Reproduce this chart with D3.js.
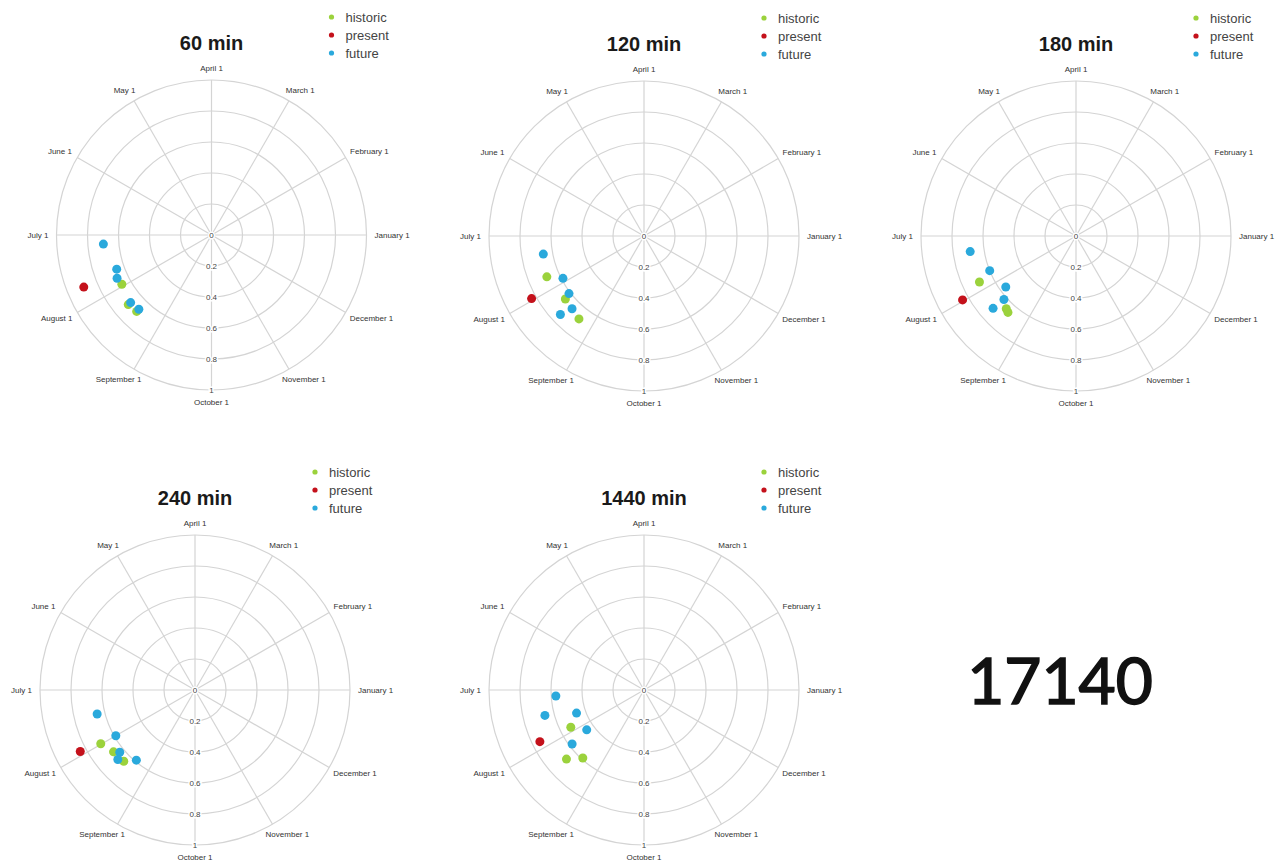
<!DOCTYPE html>
<html>
<head>
<meta charset="utf-8">
<script src="https://cdn.jsdelivr.net/npm/d3@7"></script>
<style>
  body { margin: 0; background: #fff; }
  svg { display: block; }
  .grid { fill: none; stroke: #d4d4d4; stroke-width: 1.2; }
  .month { font: 8px "Liberation Sans", Arial, sans-serif; fill: #333; }
  .rtick { font: 8px "Liberation Sans", Arial, sans-serif; fill: #444; stroke: #fff; stroke-width: 3px; paint-order: stroke; }
  .title { font: bold 20px "Liberation Sans", Arial, sans-serif; fill: #1a1a1a; }
  .legend text { font: 13px "Liberation Sans", Arial, sans-serif; fill: #444; }
  .big { font: 64px Lato, "Noto Sans", sans-serif; fill: #111; stroke: #111; stroke-width: 1.6px; }
</style>
</head>
<body>
<svg id="chart" width="1277" height="861"></svg>
<script>
// panel titles
const panels = ["60 min", "120 min", "180 min", "240 min", "1440 min"];
const seriesNames = ["historic", "present", "future"];
const seriesColors = ["#9bd23c", "#c4111b", "#2aa9dc"];
const monthLabels = ["January 1", "February 1", "March 1", "April 1", "May 1", "June 1",
                     "July 1", "August 1", "September 1", "October 1", "November 1", "December 1"];
const radialTicks = [0, 0.2, 0.4, 0.6, 0.8, 1];
const bigNumber = "17140";

// points are [month since Jan 1, value], one list per panel
const historic = [
  [[6.96, 0.66], [7.33, 0.70], [7.52, 0.69]],
  [[6.76, 0.68], [7.29, 0.65], [7.73, 0.68]],
  [[6.85, 0.69], [7.54, 0.65], [7.61, 0.66]],
  [[6.99, 0.70], [7.24, 0.66], [7.50, 0.65]],
  [[6.90, 0.53], [7.39, 0.67], [7.60, 0.59]]
];
const present = [
  [[6.74, 0.89]],
  [[6.97, 0.83]],
  [[6.98, 0.84]],
  [[6.94, 0.84]],
  [[6.88, 0.75]]
];
const future = [
  [[6.16, 0.70], [6.66, 0.65], [6.82, 0.67], [7.33, 0.68], [7.52, 0.67]],
  [[6.34, 0.66], [6.92, 0.59], [7.25, 0.61], [7.51, 0.66], [7.44, 0.74]],
  [[6.28, 0.69], [6.73, 0.60], [7.20, 0.56], [7.38, 0.62], [7.37, 0.71]],
  [[6.46, 0.65], [7.00, 0.59], [7.32, 0.63], [7.40, 0.67], [7.67, 0.59]],
  [[6.13, 0.57], [6.48, 0.66], [6.63, 0.46], [7.16, 0.45], [7.23, 0.58]]
];

// layout
const centers = [[211.5, 235], [644, 236], [1076, 236], [195, 690], [644, 690]];
const outerR = 155;

const svg = d3.select("#chart");
const r = d3.scaleLinear().domain([0, 1]).range([0, outerR]);
const angle = d3.scaleLinear().domain([0, 12]).range([0, 2 * Math.PI]);
const px = (m, v) => r(v) * Math.cos(angle(m));
const py = (m, v) => -r(v) * Math.sin(angle(m));

panels.forEach((title, i) => {
  const g = svg.append("g")
    .attr("transform", "translate(" + centers[i][0] + "," + centers[i][1] + ")");

  // rings
  g.selectAll("circle.grid").data(radialTicks.filter(d => d > 0))
    .enter().append("circle")
      .attr("class", "grid")
      .attr("r", d => r(d));

  // spokes
  g.selectAll("line.grid").data(d3.range(12))
    .enter().append("line")
      .attr("class", "grid")
      .attr("x1", 0).attr("y1", 0)
      .attr("x2", d => px(d, 1))
      .attr("y2", d => py(d, 1));

  // month labels, pushed out by half their box
  g.selectAll("text.month").data(monthLabels)
    .enter().append("text")
      .attr("class", "month")
      .attr("text-anchor", "middle")
      .attr("dominant-baseline", "central")
      .text(d => d)
      .each(function(d, k) {
        const w = this.getComputedTextLength();
        const a = angle(k);
        const R = outerR + 8;
        d3.select(this)
          .attr("x", R * Math.cos(a) + (w / 2) * Math.cos(a))
          .attr("y", -(R * Math.sin(a) + 4 * Math.sin(a)));
      });

  // radial tick labels along the October spoke
  g.selectAll("text.rtick").data(radialTicks)
    .enter().append("text")
      .attr("class", "rtick")
      .attr("text-anchor", "middle")
      .attr("dominant-baseline", "central")
      .attr("x", 0)
      .attr("y", d => r(d))
      .text(d => d);

  // points
  const sets = [historic[i], present[i], future[i]];
  sets.forEach((pts, s) => {
    g.selectAll("circle.s" + s).data(pts)
      .enter().append("circle")
        .attr("class", "s" + s)
        .attr("r", 4.5)
        .attr("cx", d => px(d[0], d[1]))
        .attr("cy", d => py(d[0], d[1]))
        .attr("fill", seriesColors[s]);
  });

  // title
  g.append("text")
    .attr("class", "title")
    .attr("text-anchor", "middle")
    .attr("x", 0)
    .attr("y", -185)
    .text(title);

  // legend
  const leg = g.append("g").attr("class", "legend")
    .attr("transform", "translate(120,-218)");
  const items = leg.selectAll("g").data(seriesNames)
    .enter().append("g")
      .attr("transform", (d, k) => "translate(0," + (k * 18) + ")");
  items.append("circle").attr("r", 2.6).attr("fill", (d, k) => seriesColors[k]);
  items.append("text").attr("x", 14).attr("y", 4.5).text(d => d);
});

svg.append("text")
  .attr("class", "big")
  .attr("text-anchor", "middle")
  .attr("x", 1060)
  .attr("y", 704)
  .text(bigNumber);
</script>
</body>
</html>
